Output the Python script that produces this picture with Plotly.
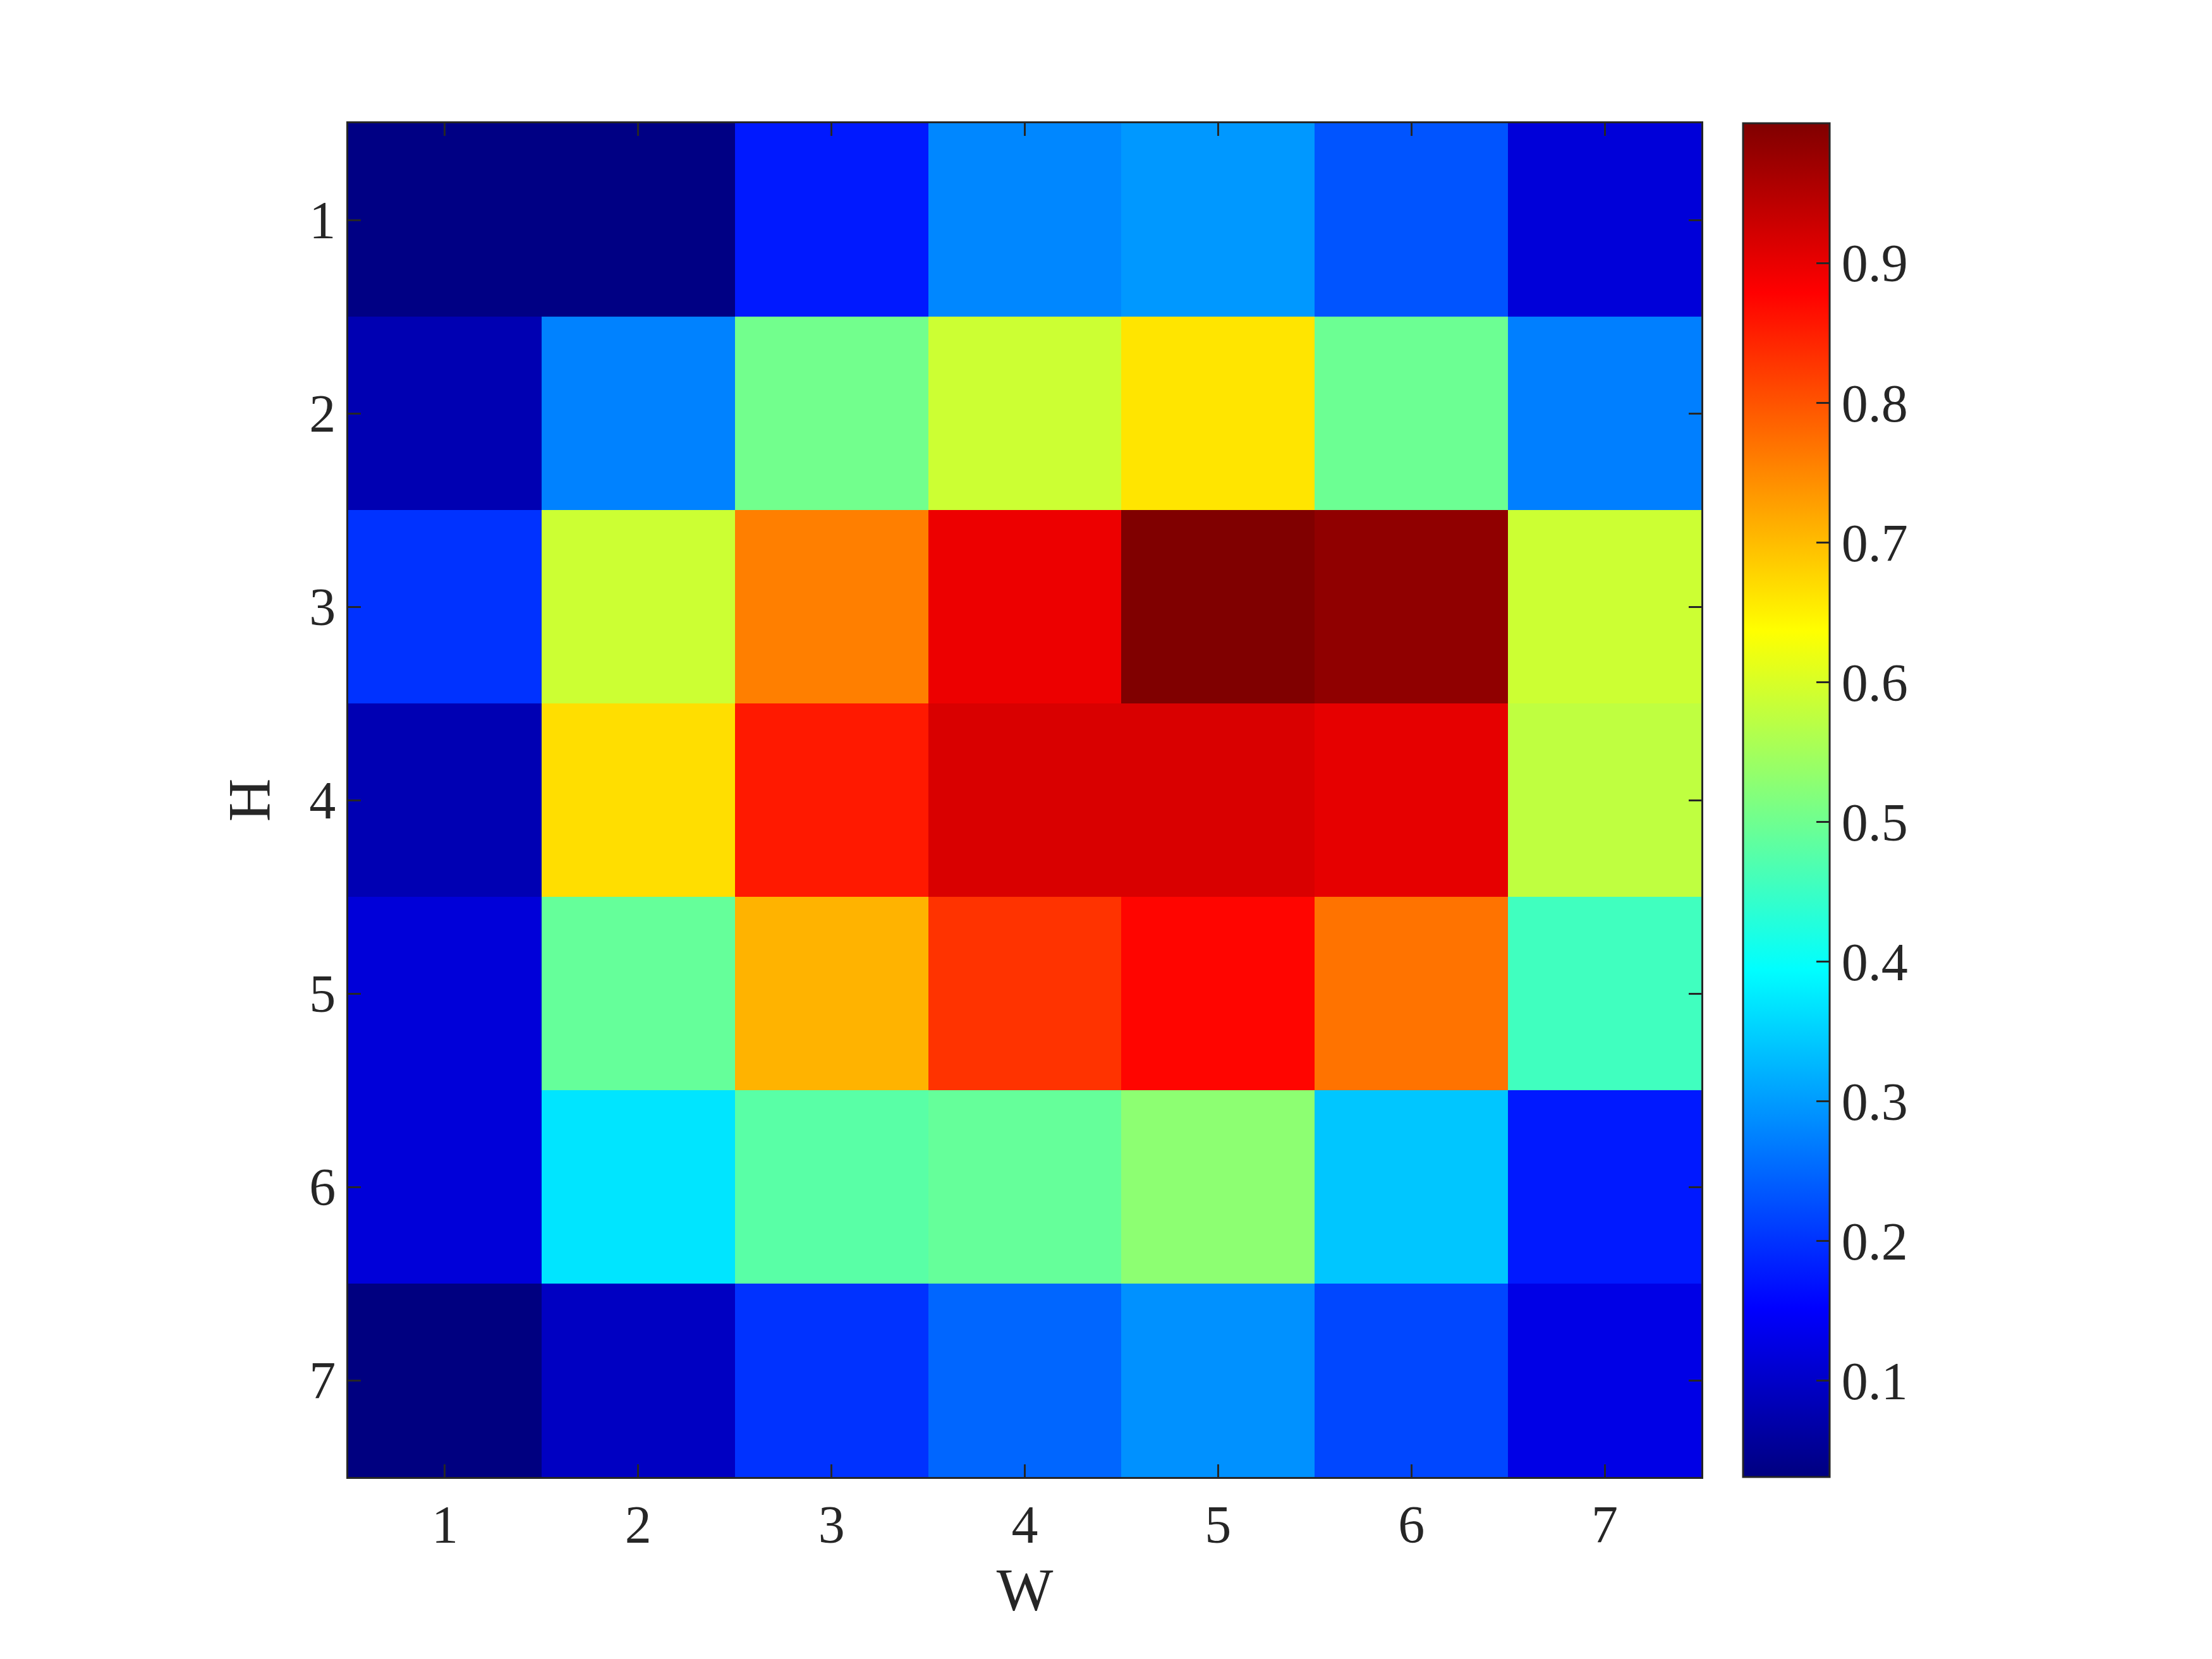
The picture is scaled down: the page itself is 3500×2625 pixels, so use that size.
import plotly.graph_objects as go

# cell values (rows H=1..7, columns W=1..7)
w_labels = [1, 2, 3, 4, 5, 6, 7]
h_labels = [1, 2, 3, 4, 5, 6, 7]
row_h1 = [0.035, 0.035, 0.176, 0.280, 0.297, 0.232, 0.116]
row_h2 = [0.079, 0.276, 0.503, 0.588, 0.661, 0.497, 0.273]
row_h3 = [0.200, 0.588, 0.758, 0.896, 1.000, 0.985, 0.588]
row_h4 = [0.080, 0.668, 0.855, 0.915, 0.915, 0.903, 0.576]
row_h5 = [0.116, 0.490, 0.709, 0.830, 0.874, 0.770, 0.455]
row_h6 = [0.116, 0.370, 0.479, 0.490, 0.528, 0.340, 0.176]
row_h7 = [0.031, 0.094, 0.200, 0.249, 0.290, 0.220, 0.128]
cbar_ticks = [0.1, 0.2, 0.3, 0.4, 0.5, 0.6, 0.7, 0.8, 0.9]

z = [row_h1, row_h2, row_h3, row_h4, row_h5, row_h6, row_h7]

# MATLAB style jet
jet = [
    [0.0, 'rgb(0,0,128)'],
    [0.125, 'rgb(0,0,255)'],
    [0.375, 'rgb(0,255,255)'],
    [0.625, 'rgb(255,255,0)'],
    [0.875, 'rgb(255,0,0)'],
    [1.0, 'rgb(128,0,0)'],
]

ink = '#262626'
font = dict(family='Liberation Serif', size=84, color=ink)

W, H = 3500, 2625
# the page body adds an 8px margin, so positions are shifted back by 8
x0, x1 = 543, 2684
y0, y1 = 187, 2329

fig = go.Figure(go.Heatmap(
    z=z, x=w_labels, y=h_labels,
    colorscale=jet, zmin=0.031, zmax=1.0,
    colorbar=dict(
        thickness=137, thicknessmode='pixels',
        len=(y1 - y0) / H, lenmode='fraction',
        x=2750 / W, xanchor='left',
        y=1 - y1 / H, yanchor='bottom',
        outlinewidth=3, outlinecolor=ink,
        tickvals=cbar_ticks, ticks='inside', ticklen=22, tickwidth=3,
        tickcolor=ink, tickfont=font, xpad=0, ypad=0,
    ),
))

axis_common = dict(
    showgrid=False, zeroline=False, showline=True, linewidth=3, linecolor=ink,
    mirror='ticks', ticks='inside', ticklen=20, tickwidth=3, tickcolor=ink,
    tickfont=font, tickvals=w_labels, automargin=False,
)

fig.update_layout(
    width=W, height=H,
    paper_bgcolor='white', plot_bgcolor='white',
    margin=dict(l=0, r=0, t=0, b=0),
    xaxis=dict(domain=[x0 / W, x1 / W], range=[0.5, 7.5],
               title=dict(text='W', font=dict(font, size=95), standoff=24),
               **axis_common),
    yaxis=dict(domain=[1 - y1 / H, 1 - y0 / H], range=[7.5, 0.5],
               title=dict(text='H', font=dict(font, size=95), standoff=30),
               **axis_common),
)

fig.write_html('out.html')
